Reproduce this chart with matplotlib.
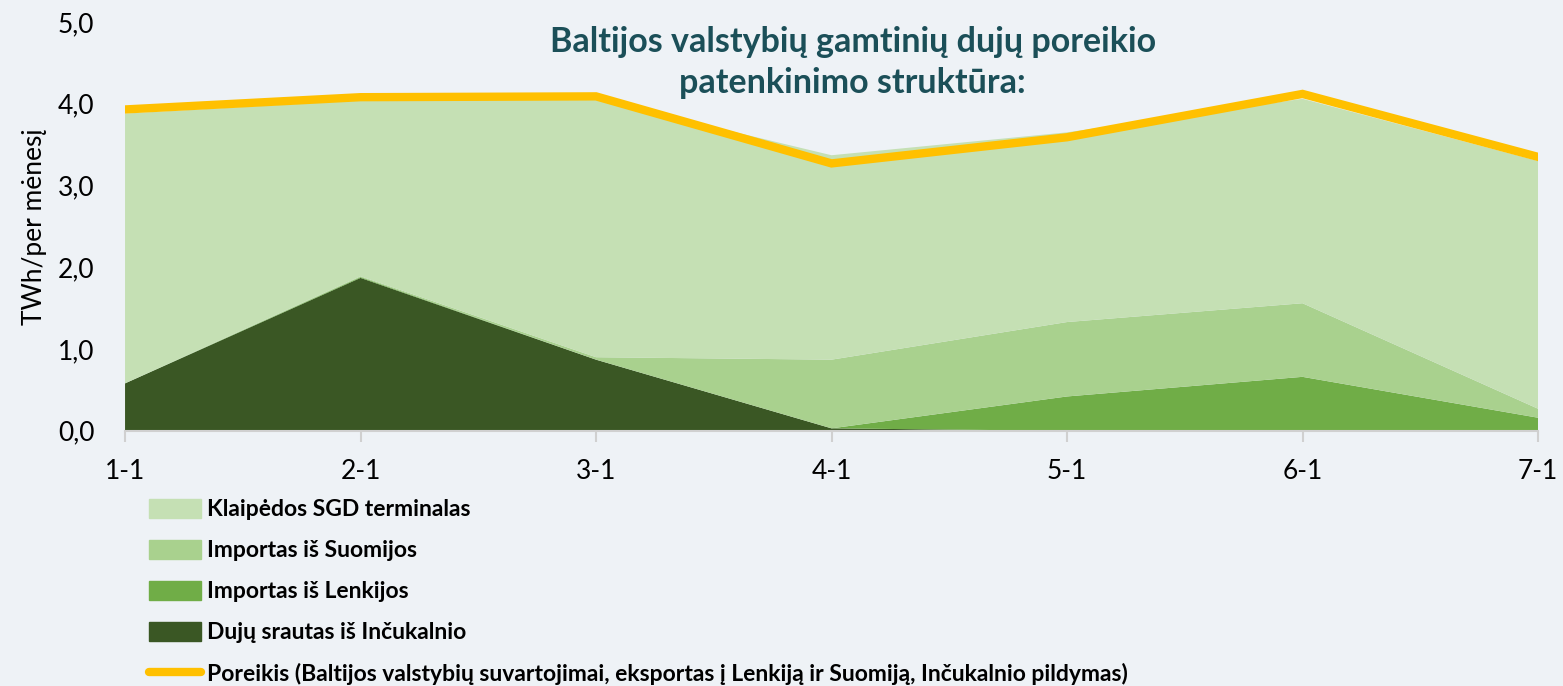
import numpy as np
import matplotlib.pyplot as plt
from matplotlib.patches import Patch
from matplotlib.lines import Line2D

plt.rcParams['font.family'] = ['Lato', 'DejaVu Sans']

menesiai = ['1-1', '2-1', '3-1', '4-1', '5-1', '6-1', '7-1']
incukalnis = [0.58, 1.87, 0.87, 0.03, 0.0, 0.0, 0.0]
lenkija = [0.0, 0.01, 0.0, 0.0, 0.42, 0.66, 0.16]
suomija = [0.0, 0.01, 0.03, 0.84, 0.91, 0.90, 0.11]
sgd = [3.30, 2.15, 3.16, 2.50, 2.32, 2.50, 3.03]
poreikis = [3.93, 4.08, 4.09, 3.27, 3.59, 4.12, 3.35]

bg = '#EEF2F6'
spalvos = ['#3A5724', '#70AD47', '#A9D18E', '#C5E0B4']
x = np.arange(len(menesiai))

fig = plt.figure(figsize=(15.63, 6.86), dpi=100, facecolor=bg)
ax = fig.add_axes([0.080, 0.372, 0.904, 0.596], facecolor=bg)

ax.stackplot(x, incukalnis, lenkija, suomija, sgd, colors=spalvos, linewidth=0)
ax.plot(x, poreikis, color='#FFC000', lw=6, solid_joinstyle='miter')

ax.set_xlim(0, len(x) - 1)
ax.set_ylim(0, 5)
ax.set_yticks(np.arange(0, 5.1, 1))
ax.set_yticklabels([f'{v:.1f}'.replace('.', ',') for v in np.arange(0, 5.1, 1)])
ax.set_xticks(x)
ax.set_xticklabels(menesiai)
ax.tick_params(axis='y', length=0, labelsize=19, pad=22)
ax.tick_params(axis='x', length=8, color='#D0D0D0', width=1.5, labelsize=19, pad=12)
for s in ['top', 'right', 'left']:
    ax.spines[s].set_visible(False)
ax.spines['bottom'].set_color('#D0D0D0')
ax.spines['bottom'].set_linewidth(1.5)
ax.set_ylabel('TWh/per mėnesį', fontsize=19, labelpad=8)

ax.text(0.515, 0.99, 'Baltijos valstybių gamtinių dujų poreikio\npatenkinimo struktūra:',
        transform=ax.transAxes, ha='center', va='top', fontsize=24.5, fontweight='bold',
        color='#1B4F58', linespacing=1.35)

handles = [Patch(color=spalvos[3]), Patch(color=spalvos[2]), Patch(color=spalvos[1]),
           Patch(color=spalvos[0]), Line2D([], [], color='#FFC000', lw=6, solid_capstyle='round')]
labels = ['Klaipėdos SGD terminalas', 'Importas iš Suomijos', 'Importas iš Lenkijos',
          'Dujų srautas iš Inčukalnio',
          'Poreikis (Baltijos valstybių suvartojimai, eksportas į Lenkiją ir Suomiją, Inčukalnio pildymas)']
leg = fig.legend(handles, labels, loc='upper left', bbox_to_anchor=(0.088, 0.290), frameon=False,
                 prop={'size': 16.5, 'weight': 'bold'}, handlelength=2.25, handleheight=0.9,
                 handletextpad=0.3, labelspacing=0.86, borderpad=0)

fig.savefig('out.png', dpi=100, facecolor=bg)
